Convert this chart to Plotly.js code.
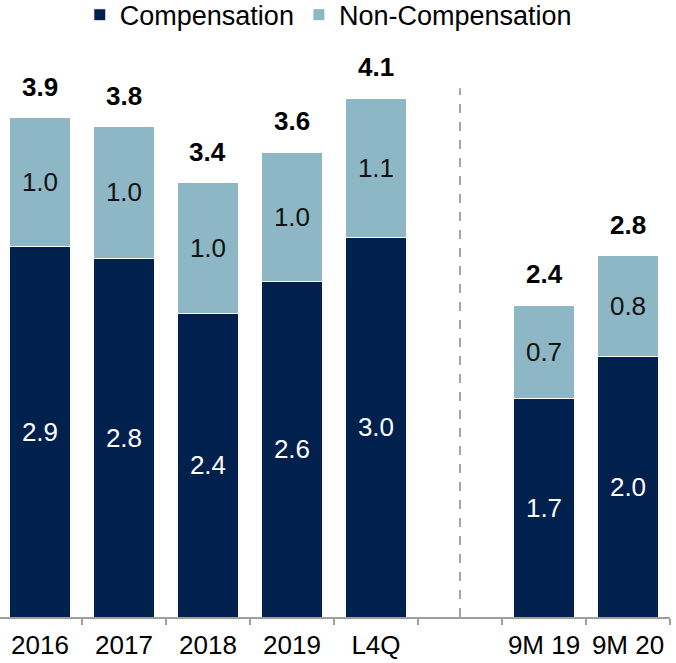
<!DOCTYPE html>
<html>
<head>
<meta charset="utf-8">
<script src="https://cdn.plot.ly/plotly-3.0.1.min.js"></script>
<style>
  html, body { margin: 0; padding: 0; background: #fff; }
  #chart { width: 676px; height: 663px; }
</style>
</head>
<body>
<div id="chart"></div>
<script>
// periods, with an empty slot between the annual and the 9M bars
const periods = ["2016", "2017", "2018", "2019", "L4Q", " ", "9M 19", "9M 20"];
// values (labels show one decimal)
const compensation = [2.90, 2.81, 2.38, 2.63, 2.97, null, 1.71, 2.04];
const nonCompensation = [1.01, 1.03, 1.02, 1.01, 1.09, null, 0.73, 0.79];

const totals = compensation.map((c, i) => (c == null ? null : c + nonCompensation[i]));

const FONT = "Liberation Sans, Arial, Helvetica, sans-serif";
const label = v => (v == null ? "" : v.toFixed(1));

document.addEventListener("DOMContentLoaded", () => {

    function renderChart() {
        const traces = [
            {
                x: periods,
                y: compensation,
                name: "Compensation",
                type: "bar",
                marker: {color: "#00214d", line: {color: "#ffffff", width: 1}},
                text: compensation.map(label),
                textposition: "inside",
                insidetextanchor: "middle",
                textangle: 0,
                constraintext: "none",
                insidetextfont: {color: "#ffffff", size: 26, family: FONT},
                hoverinfo: "x+y",
            },
            {
                x: periods,
                y: nonCompensation,
                name: "Non-Compensation",
                type: "bar",
                marker: {color: "#8db7c5", line: {color: "#ffffff", width: 1}},
                text: nonCompensation.map(label),
                textposition: "inside",
                insidetextanchor: "middle",
                textangle: 0,
                constraintext: "none",
                insidetextfont: {color: "#111111", size: 26, family: FONT},
                hoverinfo: "x+y",
            },
        ];

        // bold totals above each stack (x by index, "2016" would read as a number)
        const annotations = totals
            .map((t, i) => ({i, t}))
            .filter(d => d.t != null)
            .map(d => ({
                x: d.i,
                y: d.t,
                text: `<b>${label(d.t)}</b>`,
                showarrow: false,
                yanchor: "bottom",
                yshift: 14,
                font: {size: 26, color: "#000000", family: FONT},
            }));

        const layout = {
            width: 676,
            height: 663,
            margin: {l: 0, r: 6, t: 40, b: 46, autoexpand: false},
            barmode: "stack",
            bargap: 0.28,
            paper_bgcolor: "#ffffff",
            plot_bgcolor: "#ffffff",
            font: {family: FONT, size: 26, color: "#000000"},
            showlegend: true,
            legend: {
                orientation: "h",
                x: 0.49,
                xanchor: "center",
                y: 1.043,
                yanchor: "middle",
                bgcolor: "rgba(0,0,0,0)",
                font: {size: 27, color: "#000000"},
                traceorder: "normal",
                itemwidth: 30,
            },
            xaxis: {
                type: "category",
                range: [-0.476, 7.5],
                showline: true,
                linecolor: "#9e9e9e",
                linewidth: 2,
                ticks: "outside",
                tickson: "boundaries",
                ticklen: 6,
                tickcolor: "#9e9e9e",
                tickwidth: 2,
                tickangle: 0,
                ticklabelstandoff: 4,
                showgrid: false,
                zeroline: false,
                tickfont: {size: 26, color: "#000000"},
                fixedrange: true,
            },
            yaxis: {
                range: [0, 4.518],
                visible: false,
                showgrid: false,
                zeroline: false,
                fixedrange: true,
            },
            shapes: [
                {
                    type: "line",
                    xref: "x",
                    yref: "y",
                    x0: 5,
                    x1: 5,
                    y0: 0,
                    y1: 4.14,
                    line: {color: "#aaa49c", width: 2, dash: "dash"},
                },
            ],
            annotations: annotations,
        };

        Plotly.newPlot("chart", traces, layout, {displayModeBar: false, staticPlot: true});
    }

    renderChart();
});
</script>
</body>
</html>
